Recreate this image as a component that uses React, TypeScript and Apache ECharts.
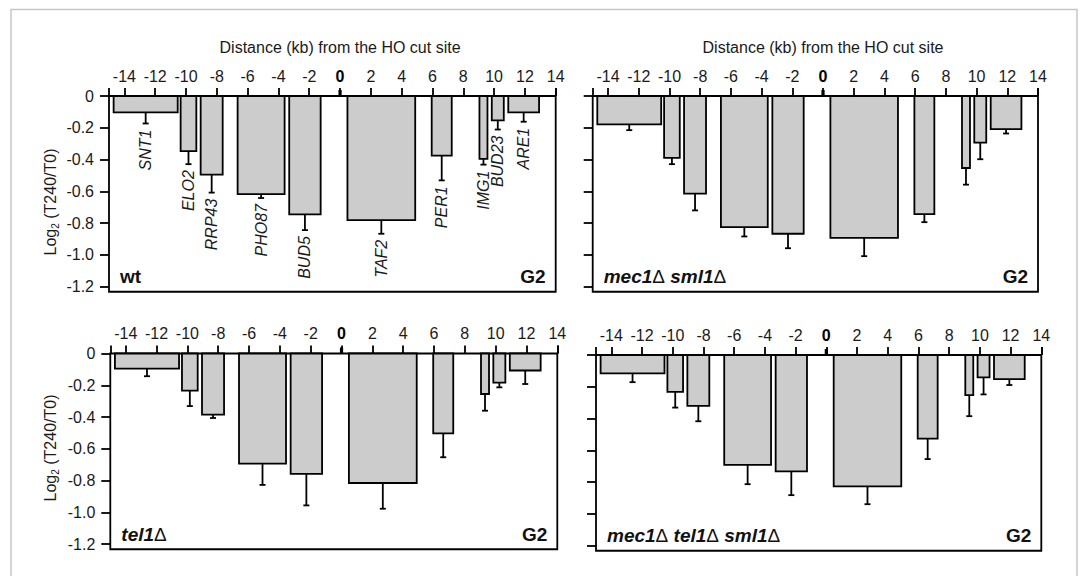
import React, { useEffect, useRef } from "react";
import * as echarts from "echarts";

// ---------- data ----------
const GENES = ["SNT1", "ELO2", "RRP43", "PHO87", "BUD5", "TAF2", "PER1", "IMG1", "BUD23", "ARE1"];
const GENE_START = [-14.7, -10.35, -9.05, -6.65, -3.3, 0.48, 5.95, 9.05, 9.85, 10.92];
const GENE_END = [-10.54, -9.33, -7.62, -3.6, -1.26, 4.88, 7.25, 9.57, 10.63, 12.92];

const WT_MEAN = [-0.103, -0.347, -0.495, -0.617, -0.745, -0.781, -0.375, -0.396, -0.154, -0.103];
const WT_ERR = [0.07, 0.082, 0.113, 0.025, 0.099, 0.086, 0.156, 0.036, 0.057, 0.059];

const MEC1_MEAN = [-0.179, -0.389, -0.615, -0.825, -0.867, -0.893, -0.743, -0.453, -0.293, -0.208];
const MEC1_ERR = [0.036, 0.04, 0.105, 0.059, 0.091, 0.115, 0.051, 0.105, 0.105, 0.028];

const TEL1_MEAN = [-0.095, -0.234, -0.385, -0.693, -0.758, -0.815, -0.503, -0.255, -0.183, -0.107];
const TEL1_ERR = [0.048, 0.097, 0.021, 0.134, 0.198, 0.162, 0.15, 0.105, 0.03, 0.085];

const TRIPLE_MEAN = [-0.116, -0.232, -0.32, -0.691, -0.733, -0.827, -0.526, -0.253, -0.141, -0.152];
const TRIPLE_ERR = [0.055, 0.099, 0.097, 0.122, 0.149, 0.112, 0.129, 0.132, 0.107, 0.037];

const X_MIN = -15;
const X_MAX = 14;
const X_TICK_MIN = -14;
const X_TICK_STEP = 2;
const Y_MIN = -1.232;
const Y_TICK_MIN = -1.2;
const Y_TICK_STEP = 0.2;

const X_TITLE = "Distance (kb) from the HO cut site";
const Y_TITLE_RICH = "{a|Log}{s|2}{a| (T240/T0)}";
const PHASE = "G2";

// ---------- layout ----------
const FONT = '"Liberation Sans", Arial, Helvetica, sans-serif';
const PPU = 158.9; // px per log2 unit
const LW = 1.8;
const PANELS = [
  { L: 109, R: 555.7, T: 96, mean: WT_MEAN, err: WT_ERR, strain: "{w|wt}", labels: true, yLabels: true, title: true, yTitleY: 202 },
  { L: 592.7, R: 1038, T: 96, mean: MEC1_MEAN, err: MEC1_ERR, strain: "{b|mec1}{d|Δ} {b|sml1}{d|Δ}", labels: false, yLabels: false, title: true, yTitleY: 0 },
  { L: 110.3, R: 557.3, T: 353.5, mean: TEL1_MEAN, err: TEL1_ERR, strain: "{b|tel1}{d|Δ}", labels: false, yLabels: true, title: false, yTitleY: 448 },
  { L: 596, R: 1041.3, T: 355, mean: TRIPLE_MEAN, err: TRIPLE_ERR, strain: "{b|mec1}{d|Δ} {b|tel1}{d|Δ} {b|sml1}{d|Δ}", labels: false, yLabels: false, title: false, yTitleY: 0 },
];

export default function App() {
  const ref = useRef<HTMLDivElement>(null);
  useEffect(() => {
    document.body.style.margin = "0";
    const chart = echarts.init(ref.current!, null, { renderer: "svg" });

    const grids: any[] = [];
    const xAxes: any[] = [];
    const yAxes: any[] = [];
    const series: any[] = [];
    const graphics: any[] = [
      {
        type: "rect",
        shape: { x: 11, y: 9.5, width: 1066, height: 620 },
        style: { fill: "none", stroke: "#c6c6c6", lineWidth: 1.5 },
        silent: true,
      },
    ];

    PANELS.forEach((p, i) => {
      const W = p.R - p.L;
      const ppk = W / (X_MAX - X_MIN);
      const H = (0 - Y_MIN) * PPU;
      const B = p.T + H;
      const a = 2 * i;
      const b = 2 * i + 1;
      const tickLeft = p.L + ppk * (X_TICK_MIN - X_MIN);

      grids.push({ left: p.L, top: p.T, width: W, height: H, show: true, borderColor: "#000", borderWidth: LW, backgroundColor: "transparent" });
      grids.push({ left: tickLeft, top: p.T, width: p.R - tickLeft, height: -Y_TICK_MIN * PPU, show: false });

      xAxes.push({
        gridIndex: a, type: "value", min: X_MIN, max: X_MAX, interval: X_MAX - X_MIN, position: "top",
        axisLine: { show: false, onZero: false },
        axisTick: { show: true, length: 8, lineStyle: { color: "#000", width: LW } },
        axisLabel: { show: false }, splitLine: { show: false },
      });
      yAxes.push({ gridIndex: a, type: "value", min: Y_MIN, max: 0, show: false });

      xAxes.push({
        gridIndex: b, type: "value", min: X_TICK_MIN, max: X_MAX, interval: X_TICK_STEP, position: "top",
        axisLine: { show: false, onZero: false },
        axisTick: { show: true, length: 8, lineStyle: { color: "#000", width: LW } },
        axisLabel: {
          show: true, fontSize: 16, fontFamily: FONT, color: "#1a1a1a", margin: 12,
          formatter: (v: number) => (v === 0 ? "{z|0}" : String(v)),
          rich: { z: { fontWeight: "bold", fontSize: 16, fontFamily: FONT, color: "#000" } },
        },
        splitLine: { show: false },
      });
      yAxes.push({
        gridIndex: b, type: "value", min: Y_TICK_MIN, max: 0, interval: Y_TICK_STEP, position: "left", offset: tickLeft - p.L,
        axisLine: { show: false, onZero: false },
        axisTick: { show: true, length: 9, lineStyle: { color: "#000", width: LW } },
        axisLabel: {
          show: p.yLabels, fontSize: 16, fontFamily: FONT, color: "#1a1a1a", margin: 15,
          formatter: (v: number) => (Math.abs(v) < 1e-9 ? "0" : v.toFixed(1)),
        },
        splitLine: { show: false },
      });

      const data = GENES.map((_, k) => [GENE_START[k], GENE_END[k], p.mean[k], p.err[k]]);
      const showLabels = p.labels;
      series.push({
        type: "custom",
        xAxisIndex: a,
        yAxisIndex: a,
        data,
        silent: true,
        clip: false,
        encode: { x: [0, 1], y: [2] },
        renderItem: (params: any, api: any) => {
          const x0 = api.value(0);
          const x1 = api.value(1);
          const v = api.value(2);
          const e = api.value(3);
          const mid = (x0 + x1) / 2;
          const p0 = api.coord([x0, 0]);
          const p1 = api.coord([x1, v]);
          const pm = api.coord([mid, v]);
          const pe = api.coord([mid, v - e]);
          const children: any[] = [
            { type: "line", shape: { x1: pm[0], y1: pm[1], x2: pe[0], y2: pe[1] }, style: { stroke: "#000", lineWidth: LW } },
            { type: "line", shape: { x1: pe[0] - 3, y1: pe[1], x2: pe[0] + 3, y2: pe[1] }, style: { stroke: "#000", lineWidth: LW } },
            { type: "rect", shape: { x: p0[0], y: p0[1], width: p1[0] - p0[0], height: p1[1] - p0[1] }, style: { fill: "#cccccc", stroke: "#000", lineWidth: LW } },
          ];
          if (showLabels) {
            children.push({
              type: "text",
              x: pe[0],
              y: pe[1] + 6,
              rotation: Math.PI / 2,
              style: {
                text: GENES[params.dataIndex],
                font: `italic 16px ${FONT}`,
                fill: "#1a1a1a",
                align: "right",
                verticalAlign: "middle",
              },
            });
          }
          return { type: "group", children };
        },
      });

      // bold tick at 0
      series.push({
        type: "custom",
        xAxisIndex: b,
        yAxisIndex: b,
        data: [[0, 0]],
        silent: true,
        clip: false,
        renderItem: (_params: any, api: any) => {
          const c = api.coord([api.value(0), api.value(1)]);
          return { type: "rect", shape: { x: c[0] - 1.6, y: c[1] - 6, width: 3.2, height: 6 }, style: { fill: "#000" } };
        },
      });

      if (p.title) {
        graphics.push({
          type: "text",
          x: p.L + ppk * (0 - X_MIN),
          y: 47,
          style: { text: X_TITLE, font: `16px ${FONT}`, fill: "#1a1a1a", align: "center", verticalAlign: "middle" },
        });
      }
      if (p.yLabels) {
        graphics.push({
          type: "text",
          x: 50,
          y: p.yTitleY,
          rotation: Math.PI / 2,
          style: {
            text: Y_TITLE_RICH,
            align: "center",
            verticalAlign: "middle",
            fill: "#1a1a1a",
            rich: {
              a: { fontSize: 16, fontFamily: FONT, lineHeight: 20, fill: "#1a1a1a", verticalAlign: "middle" },
              s: { fontSize: 10, fontFamily: FONT, lineHeight: 12, fill: "#1a1a1a", verticalAlign: "bottom" },
            },
          },
        });
      }
      graphics.push({
        type: "text",
        x: p.L + 11,
        y: B - 15,
        style: {
          text: p.strain,
          font: `italic bold 19px ${FONT}`,
          fill: "#111",
          align: "left",
          verticalAlign: "middle",
          rich: {
            w: { fontSize: 19, fontWeight: "bold", fontStyle: "normal", fontFamily: FONT, fill: "#111" },
            b: { fontSize: 19, fontWeight: "bold", fontStyle: "italic", fontFamily: FONT, fill: "#111" },
            d: { fontSize: 19, fontWeight: "normal", fontStyle: "normal", fontFamily: FONT, fill: "#111" },
          },
        },
      });
      graphics.push({
        type: "text",
        x: p.R - 10,
        y: B - 15,
        style: { text: PHASE, font: `bold 19px ${FONT}`, fill: "#111", align: "right", verticalAlign: "middle" },
      });
    });

    chart.setOption({
      animation: false,
      backgroundColor: "#fff",
      grid: grids,
      xAxis: xAxes,
      yAxis: yAxes,
      series,
      graphic: graphics,
    });
    return () => chart.dispose();
  }, []);
  return <div ref={ref} style={{ width: 1083, height: 576 }} />;
}
